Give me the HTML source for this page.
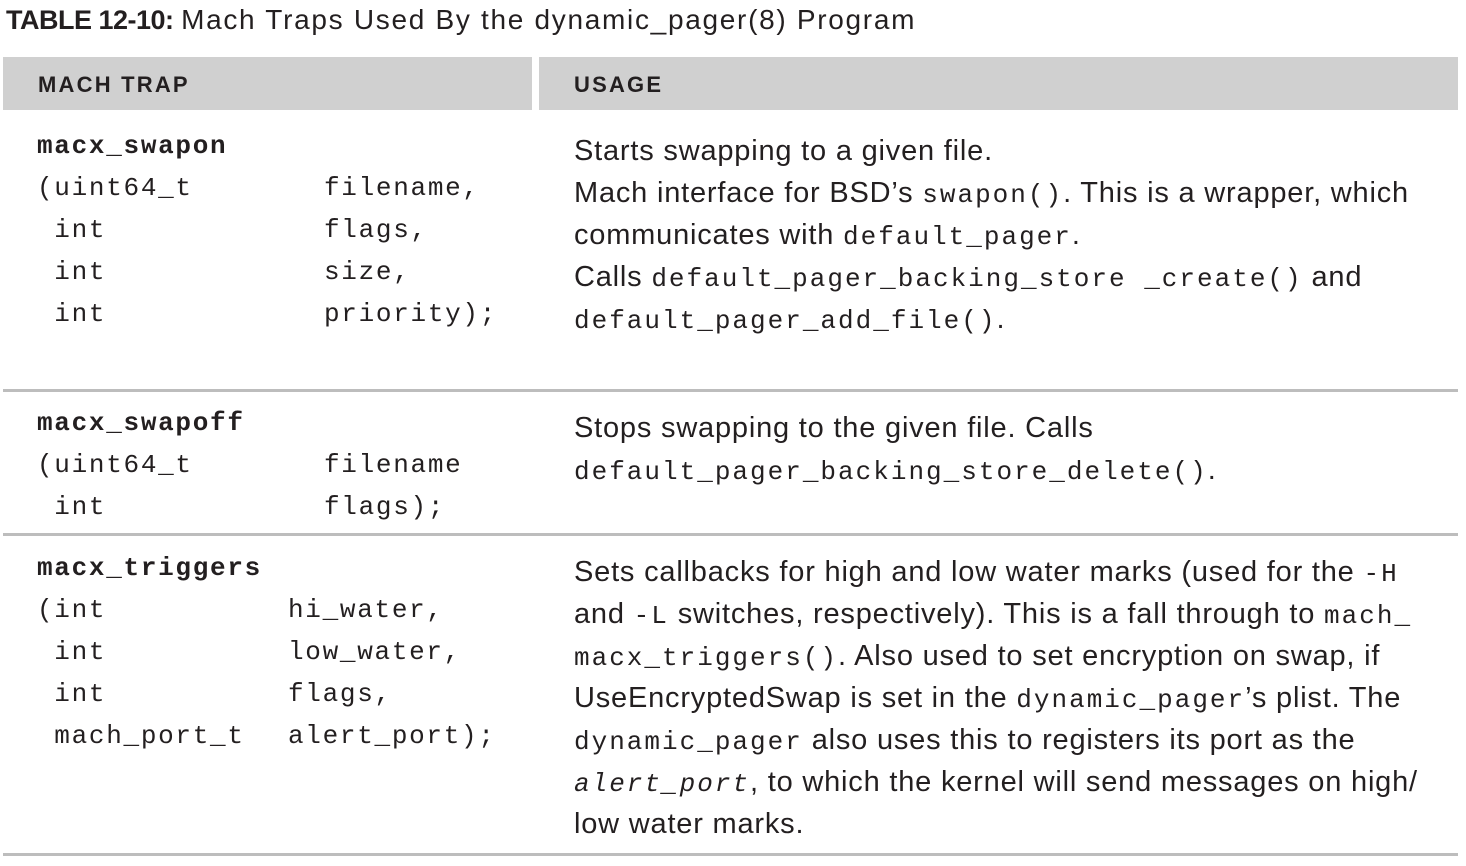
<!DOCTYPE html>
<html><head><meta charset="utf-8"><style>
body{margin:0;width:1466px;height:866px;background:#fff;position:relative;overflow:hidden;font-family:"Liberation Sans",sans-serif;color:#231f20}
.a{position:absolute}
.m{font-family:"Liberation Mono",monospace;font-size:26px;letter-spacing:2px;line-height:0}
pre{margin:0;font-family:"Liberation Mono",monospace;font-size:26px;letter-spacing:1.7px;line-height:42px;position:absolute}
.t{font-size:29px;letter-spacing:0.8px;line-height:42px;position:absolute;left:574px;white-space:nowrap}
.hr{position:absolute;left:3px;width:1455px;height:3px;background:#bdbdbd}
</style></head><body>
<div class="a" style="left:6px;top:3px;font-size:27px;line-height:34px;white-space:nowrap"><b style="letter-spacing:-0.5px">TABLE 12-10:</b> <span style="font-size:28px;letter-spacing:1.7px">Mach Traps Used By the dynamic_pager(8) Program</span></div>
<div class="a" style="left:3px;top:57px;width:529px;height:53px;background:#d0d0d0"></div>
<div class="a" style="left:539px;top:57px;width:919px;height:53px;background:#d0d0d0"></div>
<div class="a" style="left:38px;top:72px;font-size:22px;font-weight:bold;letter-spacing:2.2px">MACH TRAP</div>
<div class="a" style="left:574px;top:72px;font-size:22px;font-weight:bold;letter-spacing:2.2px">USAGE</div>

<pre style="left:37px;top:125px"><b>macx_swapon</b>
(uint64_t
 int
 int
 int</pre>
<pre style="left:324px;top:167px">filename,
flags,
size,
priority);</pre>
<div class="t" style="top:130px">Starts swapping to a given file.<br>Mach interface for BSD’s <span class="m">swapon()</span>. This is a wrapper, which<br>communicates with <span class="m">default_pager</span>.<br>Calls <span class="m">default_pager_backing_store _create()</span> and<br><span class="m">default_pager_add_file()</span>.</div>
<div class="hr" style="top:389px"></div>

<pre style="left:37px;top:402px"><b>macx_swapoff</b>
(uint64_t
 int</pre>
<pre style="left:324px;top:444px">filename
flags);</pre>
<div class="t" style="top:407px">Stops swapping to the given file. Calls<br><span class="m">default_pager_backing_store_delete()</span>.</div>
<div class="hr" style="top:533px"></div>

<pre style="left:37px;top:547px"><b>macx_triggers</b>
(int
 int
 int
 mach_port_t</pre>
<pre style="left:288px;top:589px">hi_water,
low_water,
flags,
alert_port);</pre>
<div class="t" style="top:551px">Sets callbacks for high and low water marks (used for the <span class="m">-H</span><br>and <span class="m">-L</span> switches, respectively). This is a fall through to <span class="m">mach_</span><br><span class="m">macx_triggers()</span>. Also used to set encryption on swap, if<br>UseEncryptedSwap is set in the <span class="m">dynamic_pager</span>’s plist. The<br><span class="m">dynamic_pager</span> also uses this to registers its port as the<br><span class="m"><i>alert_port</i></span>, to which the kernel will send messages on high/<br>low water marks.</div>
<div class="hr" style="top:853px"></div>
</body></html>
